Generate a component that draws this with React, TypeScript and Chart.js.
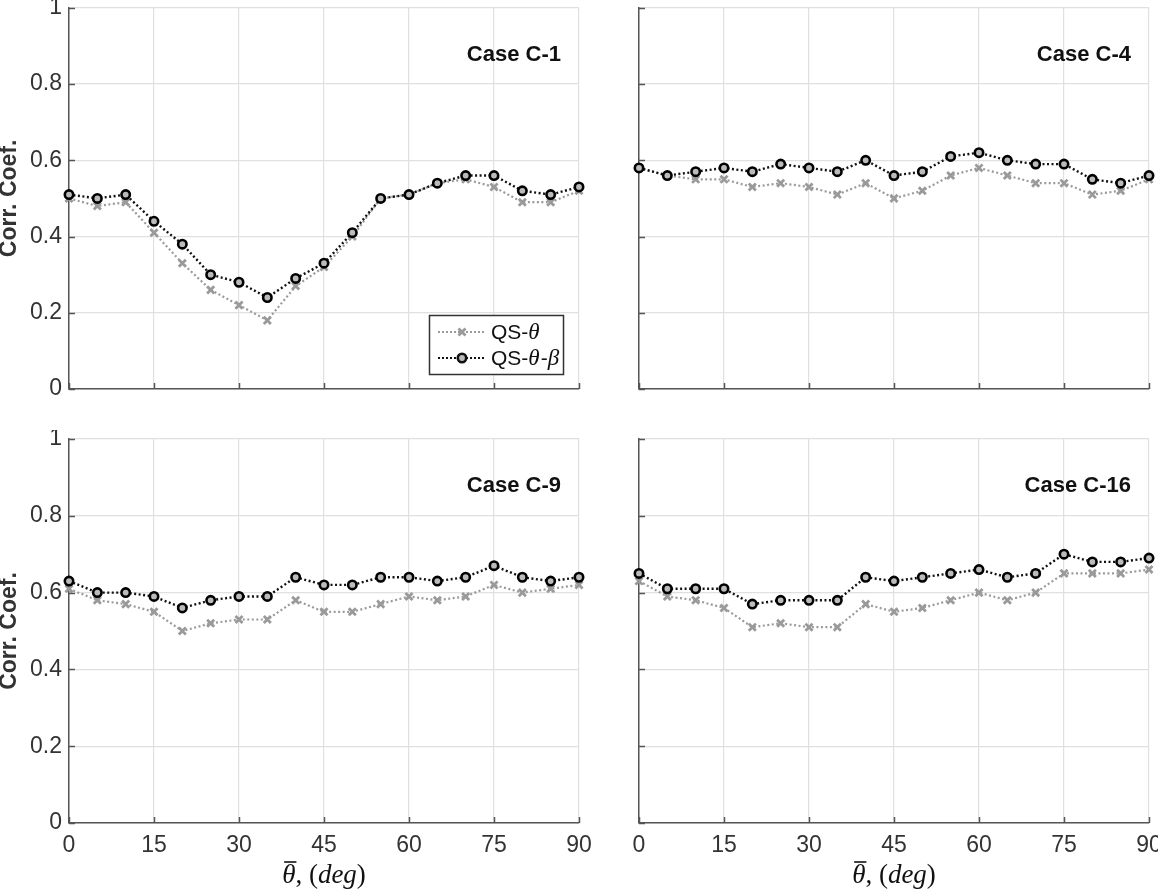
import React, { useEffect, useRef } from 'react';
import { Chart, registerables } from 'chart.js';

Chart.register(...registerables);

// angles (deg)
const angles = [0, 5, 10, 15, 20, 25, 30, 35, 40, 45, 50, 55, 60, 65, 70, 75, 80, 85, 90];

// Case C-1
const c1Theta = [0.50, 0.48, 0.49, 0.41, 0.33, 0.26, 0.22, 0.18, 0.27, 0.32, 0.40, 0.50, 0.51, 0.54, 0.55, 0.53, 0.49, 0.49, 0.52];
const c1ThetaBeta = [0.51, 0.50, 0.51, 0.44, 0.38, 0.30, 0.28, 0.24, 0.29, 0.33, 0.41, 0.50, 0.51, 0.54, 0.56, 0.56, 0.52, 0.51, 0.53];

// Case C-4
const c4Theta = [0.58, 0.56, 0.55, 0.55, 0.53, 0.54, 0.53, 0.51, 0.54, 0.50, 0.52, 0.56, 0.58, 0.56, 0.54, 0.54, 0.51, 0.52, 0.55];
const c4ThetaBeta = [0.58, 0.56, 0.57, 0.58, 0.57, 0.59, 0.58, 0.57, 0.60, 0.56, 0.57, 0.61, 0.62, 0.60, 0.59, 0.59, 0.55, 0.54, 0.56];

// Case C-9
const c9Theta = [0.61, 0.58, 0.57, 0.55, 0.50, 0.52, 0.53, 0.53, 0.58, 0.55, 0.55, 0.57, 0.59, 0.58, 0.59, 0.62, 0.60, 0.61, 0.62];
const c9ThetaBeta = [0.63, 0.60, 0.60, 0.59, 0.56, 0.58, 0.59, 0.59, 0.64, 0.62, 0.62, 0.64, 0.64, 0.63, 0.64, 0.67, 0.64, 0.63, 0.64];

// Case C-16
const c16Theta = [0.63, 0.59, 0.58, 0.56, 0.51, 0.52, 0.51, 0.51, 0.57, 0.55, 0.56, 0.58, 0.60, 0.58, 0.60, 0.65, 0.65, 0.65, 0.66];
const c16ThetaBeta = [0.65, 0.61, 0.61, 0.61, 0.57, 0.58, 0.58, 0.58, 0.64, 0.63, 0.64, 0.65, 0.66, 0.64, 0.65, 0.70, 0.68, 0.68, 0.69];

const xTicks = [0, 15, 30, 45, 60, 75, 90];

const GRAY = '#9a9a9a';
const BLACK = '#111111';
const TEXT = '#333333';
const AXIS = '#555555';
const GRID = '#e0e0e0';
const SANS = '"Liberation Sans", Arial, sans-serif';
const SERIF = '"Liberation Serif", "Times New Roman", serif';

// inward tick marks, MATLAB style
const innerTicks = {
  id: 'innerTicks',
  afterDraw(chart: any) {
    const { ctx, chartArea, scales } = chart;
    ctx.save();
    ctx.strokeStyle = AXIS;
    ctx.lineWidth = 1.5;
    ctx.beginPath();
    scales.y.ticks.forEach((t: any) => {
      const py = Math.round(scales.y.getPixelForValue(t.value)) + 0.5;
      ctx.moveTo(chartArea.left, py);
      ctx.lineTo(chartArea.left + 6, py);
    });
    scales.x.ticks.forEach((t: any) => {
      const px = Math.round(scales.x.getPixelForValue(t.value)) + 0.5;
      ctx.moveTo(px, chartArea.bottom);
      ctx.lineTo(px, chartArea.bottom - 6);
    });
    ctx.stroke();
    ctx.restore();
  },
};

const caseLabel = {
  id: 'caseLabel',
  afterDatasetsDraw(chart: any, _args: any, opts: any) {
    if (!opts || !opts.text) return;
    const { ctx, chartArea } = chart;
    ctx.save();
    ctx.font = `bold 22px ${SANS}`;
    ctx.fillStyle = '#111';
    ctx.textAlign = 'right';
    ctx.textBaseline = 'alphabetic';
    ctx.fillText(opts.text, chartArea.right - 18, chartArea.top + 53);
    ctx.restore();
  },
};

// x-axis title: theta with an overbar, then ", (deg)"
const xTitle = {
  id: 'xTitle',
  afterDraw(chart: any, _args: any, opts: any) {
    if (!opts || !opts.show) return;
    const { ctx, chartArea } = chart;
    const parts: [string, boolean][] = [['θ', true], [', (', false], ['deg', true], [')', false]];
    const fontOf = (it: boolean) => (it ? `italic 27px ${SERIF}` : `27px ${SERIF}`);
    ctx.save();
    let total = 0;
    const widths = parts.map(([s, it]) => {
      ctx.font = fontOf(it);
      const w = ctx.measureText(s).width;
      total += w;
      return w;
    });
    let x = (chartArea.left + chartArea.right) / 2 - total / 2;
    const y = chartArea.bottom + 60;
    ctx.fillStyle = '#111';
    ctx.textAlign = 'left';
    ctx.textBaseline = 'alphabetic';
    parts.forEach(([s, it], i) => {
      ctx.font = fontOf(it);
      ctx.fillText(s, x, y);
      if (i === 0) {
        ctx.strokeStyle = '#111';
        ctx.lineWidth = 1.6;
        ctx.beginPath();
        ctx.moveTo(x + 2, y - 21);
        ctx.lineTo(x + widths[0] + 1, y - 21);
        ctx.stroke();
      }
      x += widths[i];
    });
    ctx.restore();
  },
};

const drawMarker = (ctx: any, style: string, x: number, y: number, color: string) => {
  ctx.save();
  ctx.setLineDash([]);
  if (style === 'crossRot') {
    ctx.strokeStyle = color;
    ctx.lineWidth = 2.8;
    ctx.beginPath();
    ctx.moveTo(x - 3.5, y - 3.5);
    ctx.lineTo(x + 3.5, y + 3.5);
    ctx.moveTo(x + 3.5, y - 3.5);
    ctx.lineTo(x - 3.5, y + 3.5);
    ctx.stroke();
  } else {
    ctx.fillStyle = '#bbbbbb';
    ctx.strokeStyle = color;
    ctx.lineWidth = 2.6;
    ctx.beginPath();
    ctx.arc(x, y, 4.2, 0, Math.PI * 2);
    ctx.fill();
    ctx.stroke();
  }
  ctx.restore();
};

// legend box drawn inside the plot area (lower right)
const boxLegend = {
  id: 'boxLegend',
  afterDraw(chart: any, _args: any, opts: any) {
    if (!opts || !opts.show) return;
    const { ctx, chartArea } = chart;
    const w = 134;
    const h = 59;
    const x0 = chartArea.right - 16 - w;
    const y0 = chartArea.bottom - 15 - h;
    ctx.save();
    ctx.fillStyle = '#fff';
    ctx.fillRect(x0, y0, w, h);
    ctx.strokeStyle = '#333';
    ctx.lineWidth = 1.5;
    ctx.strokeRect(x0 + 0.5, y0 + 0.5, w, h);

    const rows = [
      { parts: [['QS-', false], ['θ', true]], color: GRAY, style: 'crossRot' },
      { parts: [['QS-', false], ['θ', true], ['-', false], ['β', true]], color: BLACK, style: 'circle' },
    ];
    rows.forEach((r, i) => {
      const cy = y0 + 17 + i * 26;
      ctx.strokeStyle = r.color;
      ctx.lineWidth = 1.8;
      ctx.setLineDash([2, 2]);
      ctx.beginPath();
      ctx.moveTo(x0 + 9, cy);
      ctx.lineTo(x0 + 56, cy);
      ctx.stroke();
      drawMarker(ctx, r.style, x0 + 33, cy, r.color);
      let tx = x0 + 62;
      ctx.fillStyle = '#111';
      ctx.textBaseline = 'middle';
      ctx.textAlign = 'left';
      r.parts.forEach(([s, it]) => {
        ctx.font = it ? `italic 23px ${SERIF}` : `21px ${SANS}`;
        ctx.fillText(s as string, tx, cy + 1);
        tx += ctx.measureText(s as string).width + (it ? 1 : 0);
      });
    });
    ctx.restore();
  },
};

interface PanelProps {
  theta: number[];
  thetaBeta: number[];
  label: string;
  left: number;
  top: number;
  width: number;
  height: number;
  yAxisWidth: number;
  xAxisHeight: number;
  padRight: number;
  padTop: number;
  showYLabels: boolean;
  showXLabels: boolean;
  legend?: boolean;
}

const Panel: React.FC<PanelProps> = (p) => {
  const canvasRef = useRef<HTMLCanvasElement>(null);
  const chartRef = useRef<Chart | null>(null);

  useEffect(() => {
    if (!canvasRef.current) return;
    if (chartRef.current) chartRef.current.destroy();
    const ctx = canvasRef.current.getContext('2d');
    if (!ctx) return;

    const tickFont = { family: SANS, size: 23 };

    chartRef.current = new Chart(ctx, {
      type: 'line',
      data: {
        datasets: [
          {
            label: 'QS-θ',
            data: angles.map((a, i) => ({ x: a, y: p.theta[i] })),
            borderColor: GRAY,
            backgroundColor: GRAY,
            borderWidth: 2.2,
            borderDash: [2, 2.5],
            pointStyle: 'crossRot',
            pointRadius: 5,
            pointBorderWidth: 2.8,
            pointBorderColor: GRAY,
            tension: 0,
            clip: false,
            order: 2,
          },
          {
            label: 'QS-θ-β',
            data: angles.map((a, i) => ({ x: a, y: p.thetaBeta[i] })),
            borderColor: BLACK,
            backgroundColor: '#bbbbbb',
            borderWidth: 2.4,
            borderDash: [2, 2.5],
            pointStyle: 'circle',
            pointRadius: 4.2,
            pointBorderWidth: 2.6,
            pointBorderColor: '#000',
            pointBackgroundColor: '#bbbbbb',
            tension: 0,
            clip: false,
            order: 1,
          },
        ],
      },
      options: {
        animation: false,
        responsive: true,
        maintainAspectRatio: false,
        layout: { padding: { left: 0, right: p.padRight, top: p.padTop, bottom: 0 } },
        plugins: {
          legend: { display: false },
          tooltip: { enabled: false },
          caseLabel: { text: p.label },
          boxLegend: { show: !!p.legend },
          xTitle: { show: p.showXLabels },
        } as any,
        scales: {
          x: {
            type: 'linear',
            min: 0,
            max: 90,
            afterBuildTicks: (s: any) => {
              s.ticks = xTicks.map((v) => ({ value: v }));
            },
            afterFit: (s: any) => {
              s.height = p.xAxisHeight;
              s.paddingLeft = 0;
              s.paddingRight = 0;
            },
            ticks: {
              display: p.showXLabels,
              color: TEXT,
              font: tickFont,
              padding: 9,
              maxRotation: 0,
            },
            grid: { color: GRID, lineWidth: 1.2, drawTicks: false },
            border: { display: true, color: AXIS, width: 1.5 },
          },
          y: {
            type: 'linear',
            min: 0,
            max: 1,
            ticks: {
              display: p.showYLabels,
              stepSize: 0.2,
              color: TEXT,
              font: tickFont,
              padding: 7,
              callback: (v: any) => String(Number(Number(v).toFixed(2))),
            },
            afterFit: (s: any) => {
              s.width = p.yAxisWidth;
              s.paddingTop = 0;
              s.paddingBottom = 0;
            },
            grid: { color: GRID, lineWidth: 1.2, drawTicks: false },
            border: { display: true, color: AXIS, width: 1.5 },
            title: {
              display: p.showYLabels,
              text: 'Corr. Coef.',
              color: '#333',
              font: { family: SANS, size: 23, weight: 'bold', lineHeight: 1.2 },
              padding: { top: -4, bottom: 4 },
            },
          },
        },
      },
      plugins: [innerTicks, caseLabel, boxLegend, xTitle],
    });

    return () => {
      if (chartRef.current) {
        chartRef.current.destroy();
        chartRef.current = null;
      }
    };
  }, [p]);

  return (
    <div
      style={{
        position: 'absolute',
        left: p.left,
        top: p.top,
        width: p.width,
        height: p.height,
      }}
    >
      <canvas ref={canvasRef}></canvas>
    </div>
  );
};

const panels: PanelProps[] = [
  {
    theta: c1Theta, thetaBeta: c1ThetaBeta, label: 'Case C-1',
    left: 0, top: 0, width: 600, height: 430,
    yAxisWidth: 69, xAxisHeight: 41, padRight: 21, padTop: 5,
    showYLabels: true, showXLabels: false, legend: true,
  },
  {
    theta: c4Theta, thetaBeta: c4ThetaBeta, label: 'Case C-4',
    left: 600, top: 0, width: 558, height: 430,
    yAxisWidth: 39, xAxisHeight: 41, padRight: 9, padTop: 5,
    showYLabels: false, showXLabels: false,
  },
  {
    theta: c9Theta, thetaBeta: c9ThetaBeta, label: 'Case C-9',
    left: 0, top: 430, width: 600, height: 463,
    yAxisWidth: 69, xAxisHeight: 70, padRight: 21, padTop: 9,
    showYLabels: true, showXLabels: true,
  },
  {
    theta: c16Theta, thetaBeta: c16ThetaBeta, label: 'Case C-16',
    left: 600, top: 430, width: 558, height: 463,
    yAxisWidth: 39, xAxisHeight: 70, padRight: 9, padTop: 9,
    showYLabels: false, showXLabels: true,
  },
];

export default function App() {
  return (
    <div
      style={{
        position: 'absolute',
        left: 0,
        top: 0,
        width: 1158,
        height: 893,
        background: '#fff',
        overflow: 'hidden',
      }}
    >
      {panels.map((p) => (
        <Panel key={p.label} {...p} />
      ))}
    </div>
  );
}
